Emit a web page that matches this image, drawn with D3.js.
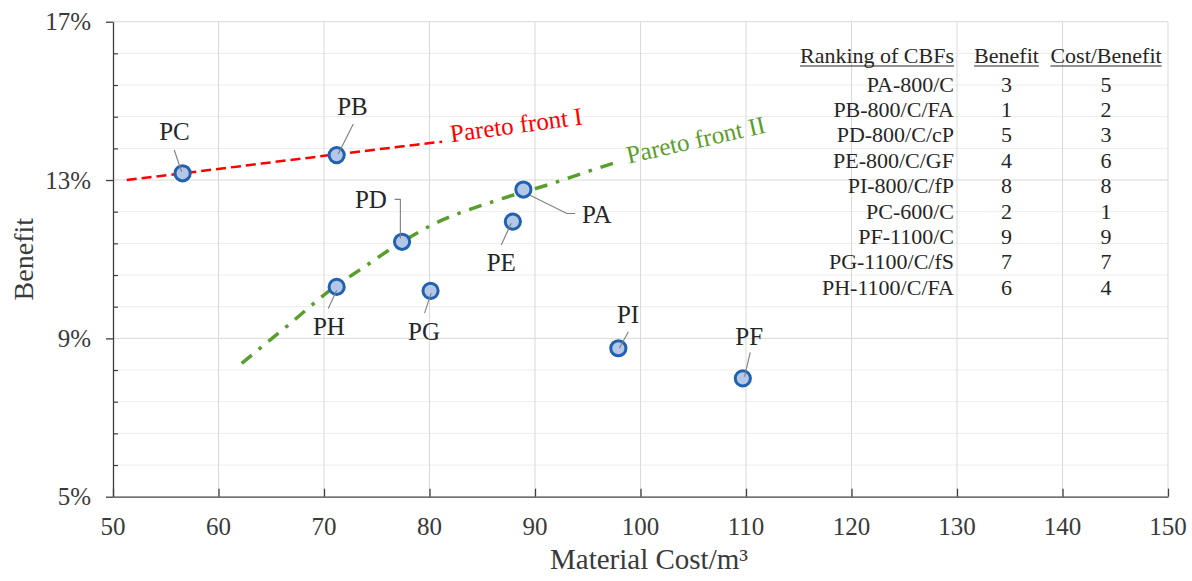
<!DOCTYPE html>
<html>
<head>
<meta charset="utf-8">
<script src="https://cdn.jsdelivr.net/npm/d3@7"></script>
<style>
  body { margin: 0; background: #fff; }
  svg { display: block; }
  text { font-family: "Liberation Serif", "Times New Roman", serif; }
</style>
</head>
<body>
<svg id="chart" width="1192" height="581"></svg>
<script>
// ---- data ----
const xTicks = [50, 60, 70, 80, 90, 100, 110, 120, 130, 140, 150];
const yMajorTicks = [5, 9, 13, 17];
const yMinorTicks = [5.8, 6.6, 7.4, 8.2, 9.8, 10.6, 11.4, 12.2, 13.8, 14.6, 15.4, 16.2];

const mixes   = ["PA", "PB", "PC", "PD", "PE", "PF", "PG", "PH", "PI"];
const cost    = [88.9, 71.2, 56.6, 77.4, 87.9, 109.7, 80.1, 71.2, 97.9];
const benefit = [12.76, 13.63, 13.17, 11.44, 11.95, 7.99, 10.20, 10.30, 8.75];

// Pareto fronts (cost, benefit %)
const frontICost    = [51.3, 56.6, 71.2, 81.2];
const frontIBenefit = [13.0, 13.17, 13.65, 13.97];
const frontIICost    = [62.2, 66.5, 70.9, 73.4, 77.4, 80.2, 86.4, 91.7, 94.6, 98.2];
const frontIIBenefit = [8.37, 9.31, 10.28, 10.73, 11.44, 11.86, 12.49, 12.92, 13.18, 13.49];

// Ranking table
const cbfNames = ["PA-800/C", "PB-800/C/FA", "PD-800/C/cP", "PE-800/C/GF", "PI-800/C/fP",
                  "PC-600/C", "PF-1100/C", "PG-1100/C/fS", "PH-1100/C/FA"];
const rankBenefit     = [3, 1, 5, 4, 8, 2, 9, 7, 6];
const rankCostBenefit = [5, 2, 3, 6, 8, 1, 9, 7, 4];

// ---- layout ----
const svg = d3.select("#chart");
const plotL = 113, plotR = 1168, plotT = 21.7, plotB = 496.7;

const x = d3.scaleLinear().domain([50, 150]).range([plotL, plotR]);
const y = d3.scaleLinear().domain([5, 17]).range([plotB, plotT]);

const textCol = "#3a3a3a";
const axisCol = "#3f3f3f";

// gridlines
const grid = svg.append("g");
grid.selectAll("line.hmin").data(yMinorTicks).join("line")
  .attr("x1", plotL).attr("x2", plotR)
  .attr("y1", d => y(d)).attr("y2", d => y(d))
  .attr("stroke", "#ececec").attr("stroke-width", 1);
grid.selectAll("line.hmaj").data(yMajorTicks.slice(1)).join("line")
  .attr("x1", plotL).attr("x2", plotR)
  .attr("y1", d => y(d)).attr("y2", d => y(d))
  .attr("stroke", "#d9d9d9").attr("stroke-width", 1);
grid.selectAll("line.v").data(xTicks.slice(1)).join("line")
  .attr("x1", d => x(d)).attr("x2", d => x(d))
  .attr("y1", plotT).attr("y2", plotB)
  .attr("stroke", "#d9d9d9").attr("stroke-width", 1);

// x axis (ticks point into the plot)
const xAxis = svg.append("g").attr("transform", `translate(0,${plotB})`)
  .call(d3.axisTop(x).tickValues(xTicks).tickSize(8).tickSizeOuter(0).tickFormat(""));
xAxis.select(".domain").attr("stroke", axisCol).attr("stroke-width", 1.3);
xAxis.selectAll(".tick line").attr("stroke", axisCol).attr("stroke-width", 1.3);
svg.append("g").selectAll("text").data(xTicks).join("text")
  .attr("x", d => x(d)).attr("y", 535)
  .attr("text-anchor", "middle").attr("font-size", 25).attr("fill", textCol)
  .text(d => d);

// y axis: major ticks outward, minor ticks inward
const yAxis = svg.append("g").attr("transform", `translate(${plotL},0)`)
  .call(d3.axisLeft(y).tickValues(yMajorTicks).tickSize(7).tickSizeOuter(0).tickFormat(""));
yAxis.select(".domain").attr("stroke", axisCol).attr("stroke-width", 1.3);
yAxis.selectAll(".tick line").attr("stroke", axisCol).attr("stroke-width", 1.3);
const yMinorAxis = svg.append("g").attr("transform", `translate(${plotL},0)`)
  .call(d3.axisRight(y).tickValues(yMinorTicks).tickSize(5).tickSizeOuter(0).tickFormat(""));
yMinorAxis.select(".domain").remove();
yMinorAxis.selectAll(".tick line").attr("stroke", axisCol).attr("stroke-width", 1.2);
svg.append("g").selectAll("text").data(yMajorTicks).join("text")
  .attr("x", 91).attr("y", d => y(d)).attr("dy", "0.34em")
  .attr("text-anchor", "end").attr("font-size", 25).attr("fill", textCol)
  .text(d => d + "%");

// axis titles
svg.append("text")
  .attr("x", 649).attr("y", 569)
  .attr("text-anchor", "middle").attr("font-size", 29).attr("fill", textCol)
  .text("Material Cost/m³");
svg.append("text")
  .attr("transform", `translate(33,${(plotT + plotB) / 2}) rotate(-90)`)
  .attr("text-anchor", "middle").attr("font-size", 28).attr("fill", textCol)
  .text("Benefit");

// Pareto fronts
const frontI = frontICost.map((c, i) => [c, frontIBenefit[i]]);
const frontII = frontIICost.map((c, i) => [c, frontIIBenefit[i]]);
const line = d3.line().x(d => x(d[0])).y(d => y(d[1])).curve(d3.curveMonotoneX);

svg.append("path").datum(frontI).attr("d", line)
  .attr("fill", "none").attr("stroke", "#ff0000").attr("stroke-width", 2.5)
  .attr("stroke-dasharray", "10 5");
svg.append("path").datum(frontII).attr("d", line)
  .attr("fill", "none").attr("stroke", "#5a9e2c").attr("stroke-width", 3.5)
  .attr("stroke-dasharray", "13 9 3.5 9");

const endI = frontI[frontI.length - 1];
svg.append("text")
  .attr("transform", `translate(${x(endI[0]) + 9},${y(endI[1]) + 0.5}) rotate(-7.7)`)
  .attr("font-size", 25).attr("fill", "#ff0000")
  .text("Pareto front I");
const endII = frontII[frontII.length - 1];
svg.append("text")
  .attr("transform", `translate(${x(endII[0]) + 7},${y(endII[1]) + 3}) rotate(-12.7)`)
  .attr("font-size", 25).attr("fill", "#5a9e2c")
  .text("Pareto front II");

// points
const pts = mixes.map((m, i) => ({ name: m, cost: cost[i], benefit: benefit[i] }));
svg.append("g").selectAll("circle").data(pts).join("circle")
  .attr("cx", d => x(d.cost)).attr("cy", d => y(d.benefit)).attr("r", 7.6)
  .attr("fill", "#b4c7e7").attr("stroke", "#1f62b0").attr("stroke-width", 3);

// label placement (pixel offsets from each point): text anchor and leader path
const labelPlace = {
  PA: { t: [73.4, 33.7], l: [[51.7, 24], [43.4, 24], [6.7, 5.7]] },
  PB: { t: [15.8, -40], l: [[16.6, -31], [1.6, -1]] },
  PC: { t: [-8.2, -33.3], l: [[-8.4, -23.3], [-1, -1.6]] },
  PD: { t: [-31.2, -33.7], l: [[-7.4, -42.4], [-1.7, -42.4], [-1.7, -3.4]] },
  PE: { t: [-11.6, 49.3], l: [[-11.6, 23.3], [-1.6, 1.6]] },
  PF: { t: [6.4, -33.3], l: [[7.4, -26], [1.7, -1.6]] },
  PG: { t: [-6.5, 49], l: [[-6, 22.3], [0.7, 2.3]] },
  PH: { t: [-7.7, 48.3], l: [[-8.4, 21.6], [0, 3.3]] },
  PI: { t: [9.7, -25.3], l: [[10, -16.6], [1, 0]] }
};

const labels = svg.append("g");
pts.forEach(d => {
  const px = x(d.cost), py = y(d.benefit), p = labelPlace[d.name];
  labels.append("path")
    .attr("d", d3.line()(p.l.map(o => [px + o[0], py + o[1]])))
    .attr("fill", "none").attr("stroke", "#7f7f7f").attr("stroke-width", 1.1);
  labels.append("text")
    .attr("x", px + p.t[0]).attr("y", py + p.t[1])
    .attr("text-anchor", "middle").attr("font-size", 25).attr("fill", "#262626")
    .text(d.name);
});

// ranking table
const table = svg.append("g").attr("font-size", 22).attr("fill", "#262626");
const colName = 954, colBen = 1006.5, colCB = 1106;
const headY = 62.5, row0 = 91.5, rowH = 25.4;
const heads = [
  { t: "Ranking of CBFs", x: colName, a: "end" },
  { t: "Benefit", x: colBen, a: "middle" },
  { t: "Cost/Benefit", x: colCB, a: "middle" }
];
heads.forEach(h => {
  const t = table.append("text").attr("x", h.x).attr("y", headY)
    .attr("text-anchor", h.a).text(h.t);
  const w = t.node().getComputedTextLength();
  const x0 = h.a === "end" ? h.x - w : h.x - w / 2;
  table.append("line").attr("x1", x0).attr("x2", x0 + w)
    .attr("y1", headY + 3.5).attr("y2", headY + 3.5)
    .attr("stroke", "#262626").attr("stroke-width", 1.2);
});
cbfNames.forEach((n, i) => {
  const yy = row0 + i * rowH;
  table.append("text").attr("x", colName).attr("y", yy).attr("text-anchor", "end").text(n);
  table.append("text").attr("x", colBen).attr("y", yy).attr("text-anchor", "middle").text(rankBenefit[i]);
  table.append("text").attr("x", colCB).attr("y", yy).attr("text-anchor", "middle").text(rankCostBenefit[i]);
});
</script>
</body>
</html>
